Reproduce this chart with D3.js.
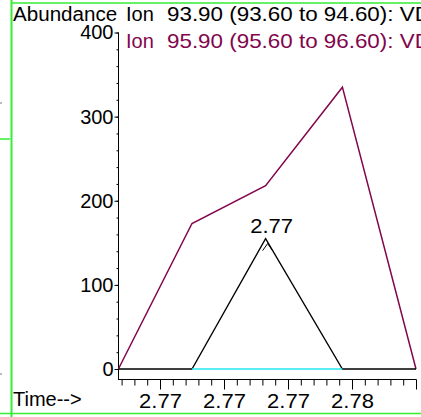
<!DOCTYPE html>
<html>
  <head>
    <meta charset="utf-8">
    <style>
      body { margin: 0; background: white; }
      text { font-family: "Liberation Sans", Arial, sans-serif; font-size: 20px; }
    </style>
  </head>
  <body>
    <script src="https://d3js.org/d3.v7.min.js"></script>
    <script>
      const width = 421;
      const height = 417;

      // data
      const times = [2.7687, 2.7710, 2.7733, 2.7757, 2.7780];
      const ion939 = [0, 0, 155, 0, 0];
      const ion959 = [0, 173, 218, 335, 0];
      const baselineTimes = [2.7710, 2.7757];
      const yTicks = [0, 100, 200, 300, 400];
      const xTicks = [2.770, 2.772, 2.774, 2.776];
      const peakTime = 2.7733;
      const peakLabel = "2.77";

      const svg = d3.select("body")
        .append("svg")
        .attr("width", width)
        .attr("height", height);

      // numbers in the original are drawn a little wider than Arial
      function stretch(sx) {
        return sel => sel.attr("transform", function() {
          const x0 = +this.getAttribute("x") || 0;
          return `translate(${x0 * (1 - sx)},0) scale(${sx},1)`;
        });
      }

      const green = "#33ee33";

      // frame lines
      svg.append("line").attr("x1", 11.5).attr("x2", 11.5).attr("y1", 0).attr("y2", height)
        .attr("stroke", green).attr("stroke-width", 2);
      svg.append("line").attr("x1", 11).attr("x2", width).attr("y1", 3).attr("y2", 3)
        .attr("stroke", green).attr("stroke-width", 1.5);
      svg.append("line").attr("x1", 0).attr("x2", width).attr("y1", 413.5).attr("y2", 413.5)
        .attr("stroke", green).attr("stroke-width", 1.5);
      svg.append("line").attr("x1", 0).attr("x2", 10).attr("y1", 139).attr("y2", 139)
        .attr("stroke", green).attr("stroke-width", 1.5);
      [103, 374].forEach(y => {
        svg.append("line").attr("x1", 0).attr("x2", 2).attr("y1", y).attr("y2", y)
          .attr("stroke", "#777");
      });

      const x = d3.scaleLinear()
        .domain([2.7686875, 2.778])
        .range([118, 416]);

      const y = d3.scaleLinear()
        .domain([0, 400])
        .range([369, 32.5]);

      // y axis
      svg.append("g").attr("transform", "translate(118.5,0)")
        .call(d3.axisLeft(y).tickValues(d3.range(0, 401, 20)).tickSize(2).tickFormat(""))
        .call(g => g.select(".domain").remove())
        .call(g => g.selectAll("line").attr("stroke", "#000"));
      svg.append("g").attr("transform", "translate(118.5,0)")
        .call(d3.axisLeft(y).tickValues(yTicks).tickSize(4).tickPadding(1))
        .call(g => g.select(".domain").remove())
        .call(g => g.selectAll("text").attr("font-size", null).attr("font-family", null))
        .call(g => g.selectAll("line").attr("stroke", "#000"));
      svg.append("line").attr("x1", 118.5).attr("x2", 118.5)
        .attr("y1", y(400)).attr("y2", 379).attr("stroke", "#000");

      // x axis
      const minor = d3.range(0, 24).map(i => 2.7688 + i * 0.0004);
      svg.append("g").attr("transform", "translate(0,379.5)")
        .call(d3.axisBottom(x).tickValues(minor).tickSize(6).tickFormat(""))
        .call(g => g.select(".domain").remove())
        .call(g => g.selectAll("line").attr("stroke", "#000"));
      svg.append("g").attr("transform", "translate(0,379.5)")
        .call(d3.axisBottom(x).tickValues(xTicks.concat([2.778])).tickSize(10).tickPadding(4)
          .tickFormat(d => d > 2.7775 ? "" : d3.format(".2f")(d)))
        .call(g => g.select(".domain").remove())
        .call(g => g.selectAll("text").attr("font-size", null).attr("font-family", null).call(stretch(1.1)))
        .call(g => g.selectAll("line").attr("stroke", "#000"));
      svg.append("line").attr("x1", 118).attr("x2", 416).attr("y1", 379.5).attr("y2", 379.5)
        .attr("stroke", "#000");

      const line = d3.line()
        .x(d => x(d[0]))
        .y(d => y(d[1]));

      svg.append("path")
        .attr("d", line(times.map((t, i) => [t, ion959[i]])))
        .attr("fill", "none").attr("stroke", "#82064c").attr("stroke-width", 1.5);
      svg.append("path")
        .attr("d", line(times.map((t, i) => [t, ion939[i]])))
        .attr("fill", "none").attr("stroke", "#000").attr("stroke-width", 1.3);
      svg.append("path")
        .attr("d", line(baselineTimes.map(t => [t, 0])))
        .attr("fill", "none").attr("stroke", "#22e8f0").attr("stroke-width", 1.5);

      // peak label
      const peakY = y(ion939[times.indexOf(peakTime)]);
      svg.append("text").attr("x", x(peakTime) + 6).attr("y", peakY - 6)
        .attr("text-anchor", "middle").text(peakLabel).call(stretch(1.1));
      svg.append("path")
        .attr("d", `M${x(peakTime) - 3},${peakY + 12}L${x(peakTime) + 2},${peakY + 5}L${x(peakTime) + 7},${peakY + 12}`)
        .attr("fill", "none").attr("stroke", "#000").attr("stroke-width", 1);

      // titles
      svg.append("text").attr("x", 13).attr("y", 21).text("Abundance").call(stretch(1.03));
      svg.append("text").attr("x", 13).attr("y", 406).text("Time-->");
      svg.append("text").attr("x", 126).attr("y", 21).text("Ion");
      svg.append("text").attr("x", 167).attr("y", 21)
        .text("93.90 (93.60 to 94.60): VD01.D").call(stretch(1.12));
      svg.append("text").attr("x", 126).attr("y", 48).attr("fill", "#82064c").text("Ion");
      svg.append("text").attr("x", 167).attr("y", 48).attr("fill", "#82064c")
        .text("95.90 (95.60 to 96.60): VD01.D").call(stretch(1.12));
    </script>
  </body>
</html>
